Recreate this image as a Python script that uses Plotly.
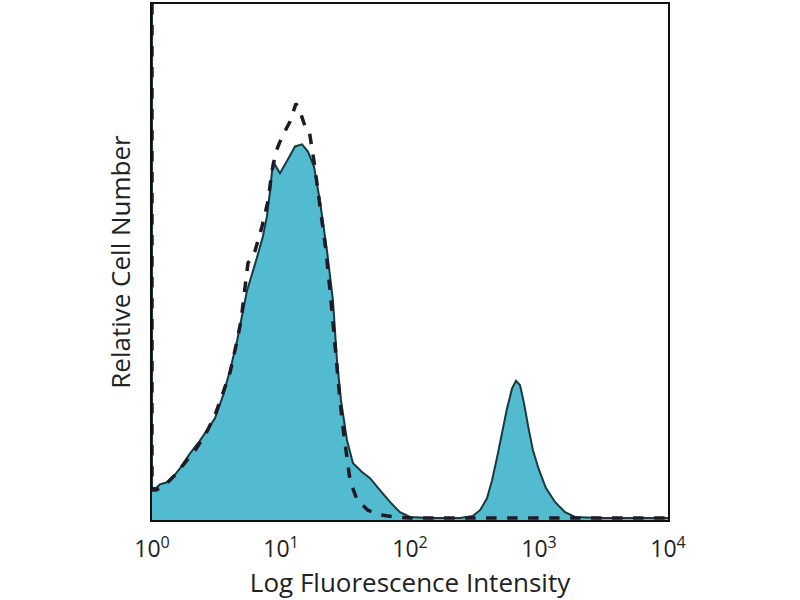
import plotly.graph_objects as go

# Stained sample (filled histogram): fluorescence intensity vs relative count
stained_x = [1.0, 1.0, 1.074, 1.153, 1.306, 1.455, 1.648, 1.972, 2.355, 2.667, 3.076, 3.548,
             4.027, 4.560, 5.445, 6.501, 7.244, 7.780, 8.222, 8.670, 9.817, 11.32, 12.85,
             14.55, 16.18, 18.03, 20.04, 22.75, 25.29, 27.16, 29.17, 32.51, 36.14, 42.46,
             48.98, 58.48, 69.98, 83.56, 100.0, 142.9, 244.3, 307.6, 349.1, 395.4, 432.5,
             472.1, 516.4, 564.9, 618.2, 663.7, 712.9, 765.6, 822.2, 897.4, 1000.0, 1132.4,
             1330.5, 1592.2, 1901.1, 2971.6, 10000.0]
stained_y = [100, 6.2, 6.2, 6.9, 7.3, 8.3, 10.0, 12.9, 15.4, 17.4, 19.7, 24.1,
             29.0, 34.7, 44.4, 50.8, 55.0, 58.9, 63.7, 69.5, 67.2, 69.9, 72.4,
             72.8, 71.4, 68.5, 61.8, 52.1, 42.5, 30.9, 23.2, 15.4, 11.0, 9.3,
             8.1, 5.8, 3.5, 1.5, 0.6, 0.4, 0.4, 0.8, 1.9, 4.2, 7.7,
             12.0, 17.0, 21.6, 25.5, 27.0, 26.1, 22.6, 18.3, 13.5, 9.7, 6.2,
             3.5, 1.5, 0.6, 0.4, 0.4]

# Isotype control (dashed line)
control_x = [1.0, 1.0, 1.074, 1.262, 1.507, 1.803, 2.153, 2.576, 3.076, 3.491, 4.027, 4.477,
             4.898, 5.164, 5.546, 5.957, 6.281, 7.129, 7.925, 8.511, 9.141, 10.19, 11.75,
             13.06, 14.03, 15.35, 16.48, 18.03, 20.04, 22.34, 24.43, 26.67, 28.64, 30.76,
             34.28, 38.82, 47.21, 58.48, 76.56, 100.0, 10000.0]
control_y = [100, 5.8, 5.8, 6.8, 8.7, 11.0, 13.5, 16.4, 20.3, 24.1, 28.6, 33.8,
             38.6, 43.4, 49.8, 50.8, 52.1, 56.9, 61.8, 67.6, 71.4, 74.3, 77.2,
             80.7, 79.2, 76.3, 75.7, 69.5, 60.8, 52.1, 42.5, 30.9, 23.2, 16.4,
             7.7, 3.9, 1.9, 1.0, 0.6, 0.4, 0.4]

tick_vals = [1, 10, 100, 1000, 10000]
tick_text = ["10<sup>0</sup>", "10<sup>1</sup>", "10<sup>2</sup>", "10<sup>3</sup>", "10<sup>4</sup>"]

fig = go.Figure()
fig.add_trace(go.Scatter(
    x=stained_x, y=stained_y, mode="lines", fill="tozeroy",
    fillcolor="#52bbd0", line=dict(color="#153a42", width=2),
    showlegend=False, hoverinfo="skip"))
fig.add_trace(go.Scatter(
    x=control_x, y=control_y, mode="lines",
    line=dict(color="#1e1a26", width=3.5, dash="dash"),
    showlegend=False, hoverinfo="skip"))

fig.update_layout(
    width=800, height=600,
    margin=dict(l=152, r=132, t=2, b=80),
    paper_bgcolor="white", plot_bgcolor="white",
    font=dict(family="Open Sans, Liberation Sans, sans-serif", color="#222222"),
    xaxis=dict(type="log", range=[0, 4], tickvals=tick_vals, ticktext=tick_text,
               showgrid=False, zeroline=False, showline=True, linecolor="#111111",
               linewidth=1.5, mirror=True, ticks="", tickfont=dict(size=23),
               ticklabelstandoff=8,
               title=dict(text="Log Fluorescence Intensity", font=dict(size=26), standoff=2)),
    yaxis=dict(range=[0, 100], showgrid=False, zeroline=False, showline=True,
               linecolor="#111111", linewidth=1.5, mirror=True, showticklabels=False,
               ticks="",
               title=dict(text="Relative Cell Number", font=dict(size=26), standoff=12)),
)

fig.write_html("out.html", config={"displayModeBar": False},
               post_script="document.body.style.margin='0px';")
